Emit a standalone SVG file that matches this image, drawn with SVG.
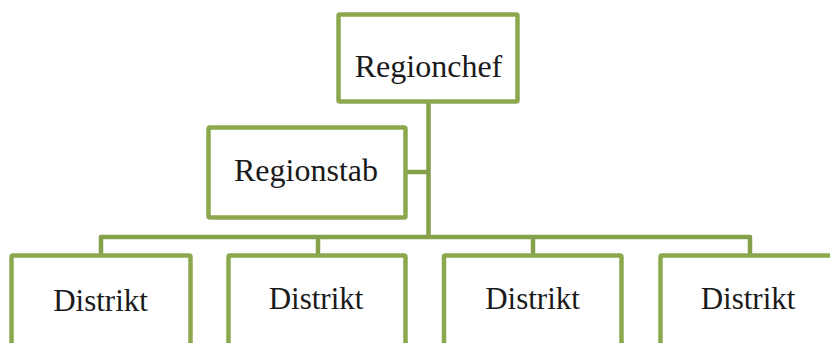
<svg xmlns="http://www.w3.org/2000/svg" width="830" height="343" viewBox="0 0 830 343">
<style>
.box{fill:#fff;stroke:#8CA84F;stroke-width:4.5;}
.lbl{font-family:"Liberation Serif","Times New Roman",serif;font-size:32px;fill:#1a1a1a;text-anchor:middle;}
.d{font-size:31px;}
.con{fill:none;stroke:#84A04A;stroke-width:4.5;stroke-linejoin:round;}
</style>
<rect width="830" height="343" fill="#fff"/>
<g id="connectors">
<path class="con" d="M428.5 101.5 V237"/>
<path class="con" d="M405.5 172 H428.5"/>
<path class="con" d="M101 255.5 V237 H750 V255.5"/>
<path class="con" d="M318 237 V255.5"/>
<path class="con" d="M533 237 V255.5"/>
</g>
<g id="regionchef">
<rect class="box" x="338.5" y="14.5" width="179" height="87" rx="1.5"/>
<text class="lbl" x="428.5" y="77">Regionchef</text>
</g>
<g id="regionstab">
<rect class="box" x="208.5" y="127.5" width="197" height="90" rx="1.5"/>
<text class="lbl" x="306" y="181">Regionstab</text>
</g>
<g id="distrikt1">
<rect class="box" x="11.5" y="255.5" width="179" height="100" rx="1.5"/>
<text class="lbl d" x="100.5" y="311">Distrikt</text>
</g>
<g id="distrikt2">
<rect class="box" x="228.5" y="255.5" width="177" height="100" rx="1.5"/>
<text class="lbl d" x="316" y="309">Distrikt</text>
</g>
<g id="distrikt3">
<rect class="box" x="444" y="255.5" width="177.5" height="100" rx="1.5"/>
<text class="lbl d" x="532.5" y="309">Distrikt</text>
</g>
<g id="distrikt4">
<rect class="box" x="660.5" y="255.5" width="179" height="100" rx="1.5"/>
<text class="lbl d" x="748" y="309">Distrikt</text>
</g>
</svg>
